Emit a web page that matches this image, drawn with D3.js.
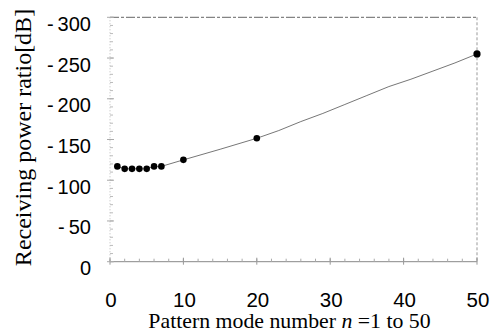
<!DOCTYPE html>
<html><head><meta charset="utf-8">
<script src="https://cdn.jsdelivr.net/npm/d3@7"></script>
<style>body{margin:0;background:#fff}</style>
</head><body>
<svg id="c" width="498" height="335"></svg>
<script>
// Data
const dotN = [1, 2, 3, 4, 5, 6, 7, 10, 20, 50];
const dotV = [117, 114, 114, 114, 114, 117, 117, 125, 151.5, 255];
const lineN = [1, 2, 3, 4, 5, 6, 7, 10, 15, 20, 23, 26, 29, 32, 35, 38, 41, 44, 47, 50];
const lineV = [117, 114, 114, 114, 114, 117, 117, 125, 138, 151.5, 161, 172, 182, 193, 204, 215, 224, 234, 244, 255];
const xTicks = [0, 10, 20, 30, 40, 50];
const yTicks = [0, 50, 100, 150, 200, 250, 300];
const yTickLabels = ["0", "-\u200950", "-\u2009100", "-\u2009150", "-\u2009200", "-\u2009250", "-\u2009300"];

const svg = d3.select("#c");
const L = 110, R = 477, T = 17.3, B = 261.7;
const x = d3.scaleLinear().domain([0, 50]).range([L, R]);
const y = d3.scaleLinear().domain([0, 300]).range([B, T]);

// frame
svg.append("line").attr("x1", L).attr("x2", R).attr("y1", T).attr("y2", T)
  .attr("stroke", "#666").attr("stroke-width", 1).attr("stroke-dasharray", "9,2,3,2");
svg.append("line").attr("x1", R).attr("x2", R).attr("y1", T).attr("y2", B)
  .attr("stroke", "#999").attr("stroke-width", 1).attr("stroke-dasharray", "3,2");
svg.append("line").attr("x1", L).attr("x2", R).attr("y1", B).attr("y2", B)
  .attr("stroke", "#888").attr("stroke-width", 1);
svg.append("line").attr("x1", L).attr("x2", L).attr("y1", T).attr("y2", B)
  .attr("stroke", "#bbb").attr("stroke-width", 1).attr("stroke-dasharray", "1,2");

// minor ticks
const xMinor = d3.range(0, 51, 2);
svg.append("g").selectAll("line").data(xMinor).join("line")
  .attr("x1", d => x(d)).attr("x2", d => x(d)).attr("y1", B).attr("y2", B - 3)
  .attr("stroke", "#aaa");
const yMinor = d3.range(0, 301, 10);
svg.append("g").selectAll("line").data(yMinor).join("line")
  .attr("x1", L).attr("x2", L + 3).attr("y1", d => y(d)).attr("y2", d => y(d))
  .attr("stroke", "#bbb");
// major "+" ticks
svg.append("g").selectAll("line").data(xTicks).join("line")
  .attr("x1", d => x(d)).attr("x2", d => x(d)).attr("y1", B - 4).attr("y2", B + 3)
  .attr("stroke", "#999");
svg.append("g").selectAll("line").data(yTicks).join("line")
  .attr("x1", L - 3).attr("x2", L + 4).attr("y1", d => y(d)).attr("y2", d => y(d))
  .attr("stroke", "#aaa");

// tick labels
svg.append("g").selectAll("text").data(xTicks).join("text")
  .attr("x", d => x(d) + 1).attr("y", 307)
  .attr("text-anchor", "middle")
  .attr("font-family", "Liberation Sans, Arial, sans-serif").attr("font-size", 20.5)
  .attr("fill", "#000").text(d => d);
svg.append("g").selectAll("text").data(yTicks).join("text")
  .attr("x", 91).attr("y", d => y(d) + 13.5)
  .attr("text-anchor", "end")
  .attr("font-family", "Liberation Sans, Arial, sans-serif").attr("font-size", 20)
  .attr("fill", "#000").text((d, i) => yTickLabels[i]);

// line
const pts = lineN.map((n, i) => [n, lineV[i]]);
svg.append("path").datum(pts)
  .attr("d", d3.line().x(d => x(d[0])).y(d => y(d[1])))
  .attr("fill", "none").attr("stroke", "#777").attr("stroke-width", 1);

// dots
svg.append("g").selectAll("circle").data(dotN).join("circle")
  .attr("cx", d => x(d)).attr("cy", (d, i) => y(dotV[i]))
  .attr("r", (d, i) => i === dotN.length - 1 ? 3.6 : 3.3)
  .attr("fill", "#000");

// axis titles
svg.append("text")
  .attr("transform", "translate(31," + ((7 + 268) / 2) + ") rotate(-90)")
  .attr("text-anchor", "middle")
  .attr("font-family", "Liberation Serif, Times New Roman, serif").attr("font-size", 24)
  .attr("fill", "#000").text("Receiving power ratio[dB]");

const xt = svg.append("text")
  .attr("x", (147 + 432) / 2).attr("y", 328)
  .attr("text-anchor", "middle")
  .attr("font-family", "Liberation Serif, Times New Roman, serif").attr("font-size", 21.8)
  .attr("fill", "#000");
xt.append("tspan").text("Pattern mode number ");
xt.append("tspan").attr("font-style", "italic").text("n");
xt.append("tspan").text(" =1 to 50");
</script>
</body></html>
